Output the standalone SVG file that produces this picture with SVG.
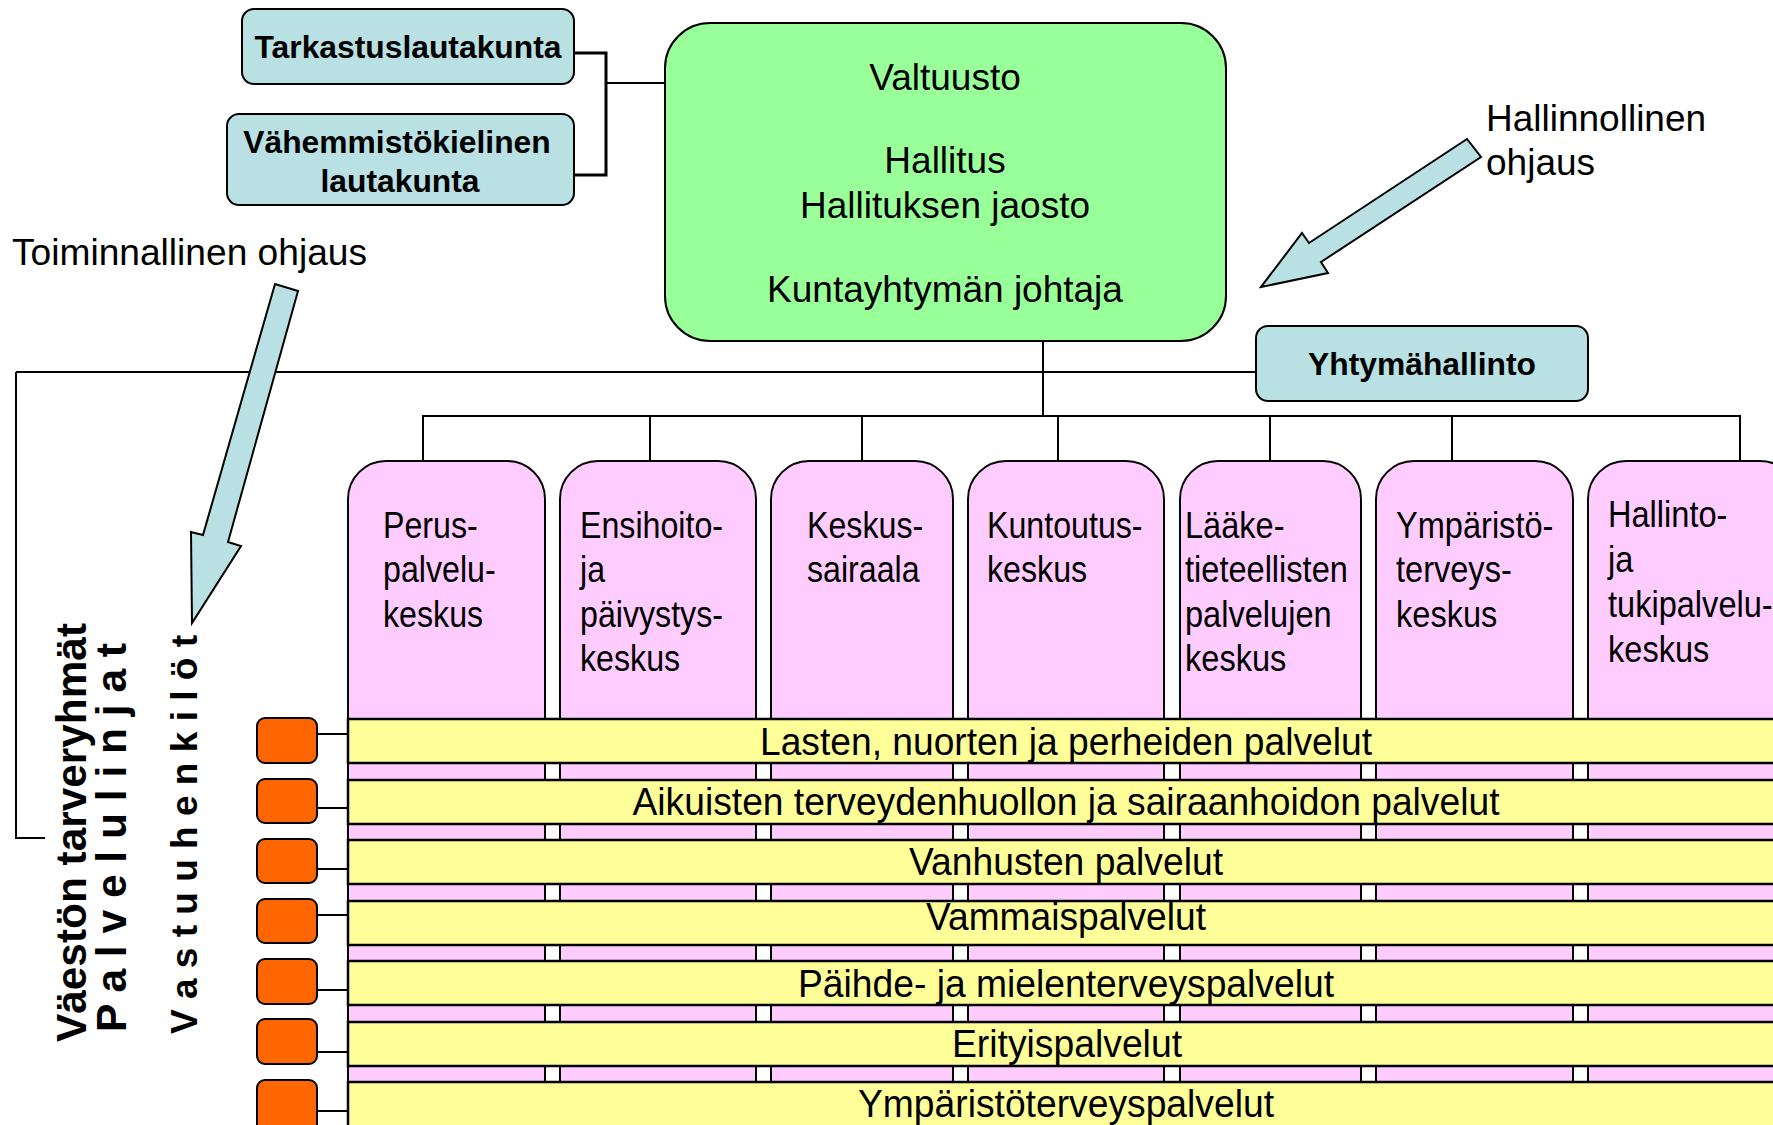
<svg xmlns="http://www.w3.org/2000/svg" width="1773" height="1125" viewBox="0 0 1773 1125">
<style>
text{font-family:"Liberation Sans",Arial,sans-serif;fill:#000}
.b{font-weight:bold}
.blue{fill:#b9e0e3;stroke:#000;stroke-width:2}
.green{fill:#99ff99;stroke:#000;stroke-width:2}
.pink{fill:#ffccff;stroke:#000;stroke-width:2}
.band{fill:#ffff99;stroke:#000;stroke-width:2.5}
.orange{fill:#ff6600;stroke:#000;stroke-width:2}
.ln{fill:none;stroke:#000;stroke-width:2}
.reg{font-size:37px}
.ctr{text-anchor:middle}
.bx{font-size:37px}
.bt{font-size:38px;text-anchor:middle}
.bl{font-size:31.8px;font-weight:bold;text-anchor:middle}
</style>
<rect width="1773" height="1125" fill="#fff"/>
<g id="connectors">
  <path class="ln" d="M574 53H606V175H574" style="stroke-width:3"/>
  <path class="ln" d="M606 83H665"/>
  <path class="ln" d="M1043 341V416"/>
  <path class="ln" d="M16 372H1256"/>
  <path class="ln" d="M16 372V838H45"/>
  <path class="ln" d="M423 461V416H1740V461"/>
  <path class="ln" d="M650 416V461M862 416V461M1058 416V461M1270 416V461M1452 416V461"/>
  <path class="ln" d="M317 734H348M317 808H348M317 869H348M317 915H348M317 990H348M317 1052H348M317 1111H348"/>
</g>
<g id="tarkastuslautakunta">
  <rect class="blue" x="242" y="9" width="332" height="75" rx="12"/>
  <text class="bl" x="408" y="58">Tarkastuslautakunta</text>
</g>
<g id="vahemmistokielinen">
  <rect class="blue" x="227" y="114" width="347" height="91" rx="12"/>
  <text class="bl" x="397" y="153">Vähemmistökielinen</text>
  <text class="bl" x="400" y="192">lautakunta</text>
</g>
<g id="valtuusto">
  <rect class="green" x="665" y="23" width="561" height="318" rx="45"/>
  <text class="reg ctr" x="945" y="90">Valtuusto</text>
  <text class="reg ctr" x="945" y="173">Hallitus</text>
  <text class="reg ctr" x="945" y="218">Hallituksen jaosto</text>
  <text class="reg ctr" x="945" y="302">Kuntayhtymän johtaja</text>
</g>
<g id="yhtymahallinto">
  <rect class="blue" x="1256" y="326" width="332" height="75" rx="12"/>
  <text class="bl" x="1422" y="375">Yhtymähallinto</text>
</g>
<g id="hallinnollinen-ohjaus">
  <polygon class="blue" points="1467,139 1309,243 1302,233 1261,287 1328,273 1321,262 1481,157"/>
  <text class="reg" x="1486" y="131">Hallinnollinen</text>
  <text class="reg" x="1486" y="175">ohjaus</text>
</g>
<g id="toiminnallinen-ohjaus">
  <polygon class="blue" points="275,284 203,535 191,532 192,623 241,546 228,542 298,291"/>
  <text class="reg" x="12" y="265" textLength="355" lengthAdjust="spacingAndGlyphs">Toiminnallinen ohjaus</text>
</g>
<g id="perus">
  <rect class="pink" x="348" y="461" width="197" height="750" rx="38"/>
  <g transform="translate(383 0) scale(0.87 1)"><text class="bx"><tspan x="0" y="538">Perus-</tspan><tspan x="0" y="582">palvelu-</tspan><tspan x="0" y="627">keskus</tspan></text></g>
</g>
<g id="ensihoito">
  <rect class="pink" x="560" y="461" width="196" height="750" rx="38"/>
  <g transform="translate(580 0) scale(0.87 1)"><text class="bx"><tspan x="0" y="538">Ensihoito-</tspan><tspan x="0" y="582">ja</tspan><tspan x="0" y="627">päivystys-</tspan><tspan x="0" y="671">keskus</tspan></text></g>
</g>
<g id="keskussairaala">
  <rect class="pink" x="771" y="461" width="182" height="750" rx="38"/>
  <g transform="translate(807 0) scale(0.87 1)"><text class="bx"><tspan x="0" y="538">Keskus-</tspan><tspan x="0" y="582">sairaala</tspan></text></g>
</g>
<g id="kuntoutus">
  <rect class="pink" x="968" y="461" width="196" height="750" rx="38"/>
  <g transform="translate(987 0) scale(0.87 1)"><text class="bx"><tspan x="0" y="538">Kuntoutus-</tspan><tspan x="0" y="582">keskus</tspan></text></g>
</g>
<g id="laaketieteellisten">
  <rect class="pink" x="1180" y="461" width="181" height="750" rx="38"/>
  <g transform="translate(1185 0) scale(0.88 1)"><text class="bx"><tspan x="0" y="538">Lääke-</tspan><tspan x="0" y="582">tieteellisten</tspan><tspan x="0" y="627">palvelujen</tspan><tspan x="0" y="671">keskus</tspan></text></g>
</g>
<g id="ymparistoterveys">
  <rect class="pink" x="1376" y="461" width="197" height="750" rx="38"/>
  <g transform="translate(1396 0) scale(0.88 1)"><text class="bx"><tspan x="0" y="538">Ympäristö-</tspan><tspan x="0" y="582">terveys-</tspan><tspan x="0" y="627">keskus</tspan></text></g>
</g>
<g id="hallinto">
  <rect class="pink" x="1588" y="461" width="210" height="750" rx="38"/>
  <g transform="translate(1608 0) scale(0.88 1)"><text class="bx"><tspan x="0" y="527">Hallinto-</tspan><tspan x="0" y="572">ja</tspan><tspan x="0" y="617">tukipalvelu-</tspan><tspan x="0" y="662">keskus</tspan></text></g>
</g>
<g id="band-lapset">
  <rect class="band" x="348" y="719" width="1460" height="44"/>
  <text class="bt" x="1066" y="755" textLength="612" lengthAdjust="spacingAndGlyphs">Lasten, nuorten ja perheiden palvelut</text>
</g>
<g id="band-aikuiset">
  <rect class="band" x="348" y="780" width="1460" height="44"/>
  <text class="bt" x="1066" y="815" textLength="867" lengthAdjust="spacingAndGlyphs">Aikuisten terveydenhuollon ja sairaanhoidon palvelut</text>
</g>
<g id="band-vanhukset">
  <rect class="band" x="348" y="840" width="1460" height="44"/>
  <text class="bt" x="1066" y="875" textLength="314" lengthAdjust="spacingAndGlyphs">Vanhusten palvelut</text>
</g>
<g id="band-vammais">
  <rect class="band" x="348" y="901" width="1460" height="44"/>
  <text class="bt" x="1066" y="930" textLength="280" lengthAdjust="spacingAndGlyphs">Vammaispalvelut</text>
</g>
<g id="band-paihde">
  <rect class="band" x="348" y="961" width="1460" height="44"/>
  <text class="bt" x="1066" y="997" textLength="536" lengthAdjust="spacingAndGlyphs">Päihde- ja mielenterveyspalvelut</text>
</g>
<g id="band-erityis">
  <rect class="band" x="348" y="1022" width="1460" height="44"/>
  <text class="bt" x="1067" y="1057" textLength="230" lengthAdjust="spacingAndGlyphs">Erityispalvelut</text>
</g>
<g id="band-ymparisto">
  <rect class="band" x="348" y="1082" width="1460" height="60"/>
  <text class="bt" x="1066" y="1117" textLength="416" lengthAdjust="spacingAndGlyphs">Ympäristöterveyspalvelut</text>
</g>
<g id="vastuuhenkilot-boxes">
  <rect class="orange" x="257" y="718" width="60" height="45" rx="8"/>
  <rect class="orange" x="257" y="779" width="60" height="44" rx="8"/>
  <rect class="orange" x="257" y="839" width="60" height="44" rx="8"/>
  <rect class="orange" x="257" y="899" width="60" height="44" rx="8"/>
  <rect class="orange" x="257" y="959" width="60" height="45" rx="8"/>
  <rect class="orange" x="257" y="1019" width="60" height="45" rx="8"/>
  <rect class="orange" x="257" y="1080" width="60" height="60" rx="8"/>
</g>
<g id="vertical-labels">
  <text class="b" font-size="43" transform="translate(86 1042) rotate(-90)" textLength="419" lengthAdjust="spacingAndGlyphs">Väestön tarveryhmät</text>
  <text class="b" font-size="43" transform="translate(126 1032) rotate(-90)" textLength="389" lengthAdjust="spacingAndGlyphs">P a l v e l u l i n j a t</text>
  <text class="b" font-size="37.6" transform="translate(197 1034) rotate(-90)" textLength="399" lengthAdjust="spacingAndGlyphs">V a s t u u h e n k i l ö t</text>
</g>
</svg>
